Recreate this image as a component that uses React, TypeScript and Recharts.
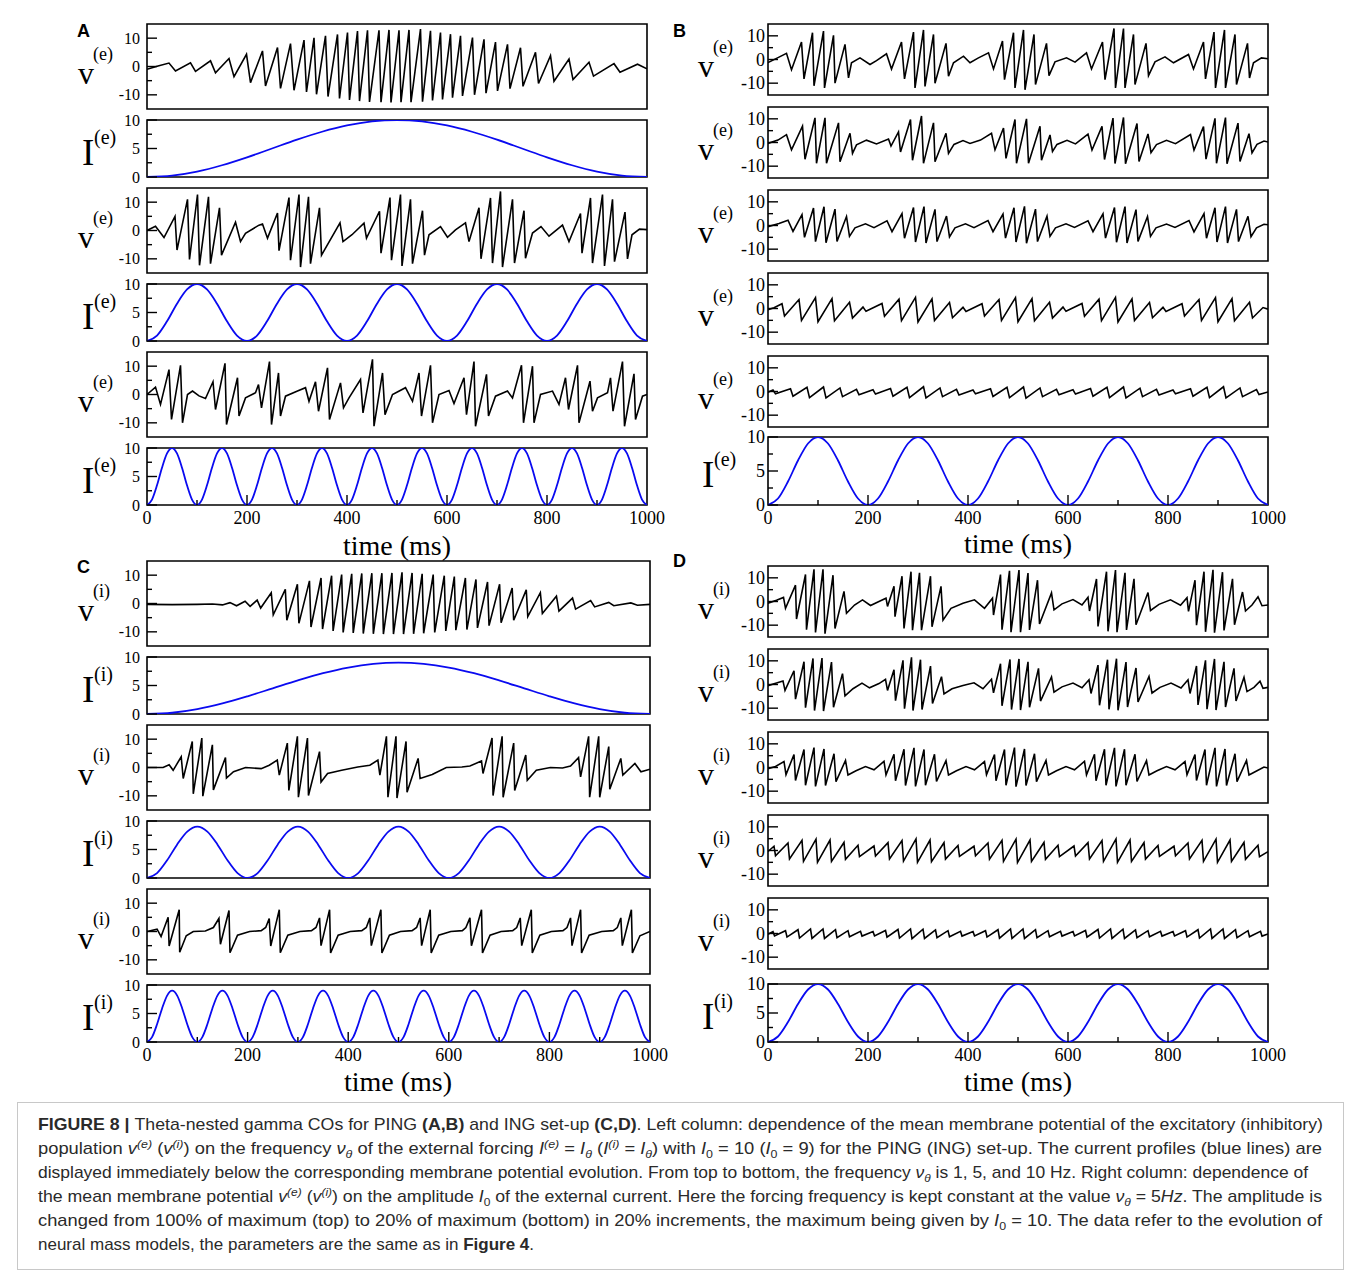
import React from 'react';
import { LineChart, Line, XAxis, YAxis, ReferenceArea } from 'recharts';

// ------------------------------------------------------------------ data
// sampling grids for the forcing currents (ms)
const T50 = [0,50,100,150,200,250,300,350,400,450,500,550,600,650,700,750,800,850,900,950,1000];
const T20 = [0,20,40,60,80,100,120,140,160,180,200,220,240,260,280,300,320,340,360,380,400,420,440,460,480,500,520,540,560,580,600,620,640,660,680,700,720,740,760,780,800,820,840,860,880,900,920,940,960,980,1000];
const T10 = [0,10,20,30,40,50,60,70,80,90,100,110,120,130,140,150,160,170,180,190,200,210,220,230,240,250,260,270,280,290,300,310,320,330,340,350,360,370,380,390,400,410,420,430,440,450,460,470,480,490,500,510,520,530,540,550,560,570,580,590,600,610,620,630,640,650,660,670,680,690,700,710,720,730,740,750,760,770,780,790,800,810,820,830,840,850,860,870,880,890,900,910,920,930,940,950,960,970,980,990,1000];

// forcing current values
const I_1HZ_10 = [0,0.24,0.95,2.06,3.45,5,6.55,7.94,9.05,9.76,10,9.76,9.05,7.94,6.55,5,3.45,2.06,0.95,0.24,0];
const I_1HZ_9 = [0,0.22,0.86,1.85,3.11,4.5,5.89,7.15,8.14,8.78,9,8.78,8.14,7.15,5.89,4.5,3.11,1.85,0.86,0.22,0];
const I_5HZ_10 = [0,0.95,3.45,6.55,9.05,10,9.05,6.55,3.45,0.95, 0,0.95,3.45,6.55,9.05,10,9.05,6.55,3.45,0.95, 0,0.95,3.45,6.55,9.05,10,9.05,6.55,3.45,0.95, 0,0.95,3.45,6.55,9.05,10,9.05,6.55,3.45,0.95, 0,0.95,3.45,6.55,9.05,10,9.05,6.55,3.45,0.95, 0];
const I_5HZ_9 = [0,0.86,3.11,5.89,8.14,9,8.14,5.89,3.11,0.86, 0,0.86,3.11,5.89,8.14,9,8.14,5.89,3.11,0.86, 0,0.86,3.11,5.89,8.14,9,8.14,5.89,3.11,0.86, 0,0.86,3.11,5.89,8.14,9,8.14,5.89,3.11,0.86, 0,0.86,3.11,5.89,8.14,9,8.14,5.89,3.11,0.86, 0];
const I_10HZ_10 = [0,0.95,3.45,6.55,9.05,10,9.05,6.55,3.45,0.95, 0,0.95,3.45,6.55,9.05,10,9.05,6.55,3.45,0.95, 0,0.95,3.45,6.55,9.05,10,9.05,6.55,3.45,0.95, 0,0.95,3.45,6.55,9.05,10,9.05,6.55,3.45,0.95, 0,0.95,3.45,6.55,9.05,10,9.05,6.55,3.45,0.95, 0,0.95,3.45,6.55,9.05,10,9.05,6.55,3.45,0.95, 0,0.95,3.45,6.55,9.05,10,9.05,6.55,3.45,0.95, 0,0.95,3.45,6.55,9.05,10,9.05,6.55,3.45,0.95, 0,0.95,3.45,6.55,9.05,10,9.05,6.55,3.45,0.95, 0,0.95,3.45,6.55,9.05,10,9.05,6.55,3.45,0.95, 0];
const I_10HZ_9 = [0,0.86,3.11,5.89,8.14,9,8.14,5.89,3.11,0.86, 0,0.86,3.11,5.89,8.14,9,8.14,5.89,3.11,0.86, 0,0.86,3.11,5.89,8.14,9,8.14,5.89,3.11,0.86, 0,0.86,3.11,5.89,8.14,9,8.14,5.89,3.11,0.86, 0,0.86,3.11,5.89,8.14,9,8.14,5.89,3.11,0.86, 0,0.86,3.11,5.89,8.14,9,8.14,5.89,3.11,0.86, 0,0.86,3.11,5.89,8.14,9,8.14,5.89,3.11,0.86, 0,0.86,3.11,5.89,8.14,9,8.14,5.89,3.11,0.86, 0,0.86,3.11,5.89,8.14,9,8.14,5.89,3.11,0.86, 0,0.86,3.11,5.89,8.14,9,8.14,5.89,3.11,0.86, 0];

// membrane potential traces: flat lists of (time ms, value)
const V_A1 = [0,-1.0, 22,0.2, 44,1.2, 57,-1.6, 87,1.3, 97,-1.7, 127,2.0, 137,-2.2, 164,2.8, 174,-3.6, 199,4.3, 207,-5.7, 231,5.5, 237,-6.9, 261,6.7, 267,-7.7, 287,8.1, 294,-8.4, 314,9.3, 319,-9.0, 334,10.1, 339,-9.8, 357,10.8, 362,-10.6, 381,11.3, 385,-11.3, 401,12.0, 405,-11.8, 421,12.5, 425,-12.2, 441,12.8, 445,-12.5, 464,12.8, 468,-12.6, 484,12.9, 488,-12.7, 504,12.8, 508,-12.6, 524,12.9, 528,-12.6, 547,13.2, 551,-12.4, 567,12.6, 571,-12.0, 587,12.0, 591,-11.6, 607,11.4, 611,-11.0, 627,10.8, 631,-10.4, 651,10.2, 655,-10.0, 674,9.6, 678,-9.4, 697,8.6, 701,-8.6, 721,7.8, 726,-7.8, 747,6.6, 752,-7.0, 777,5.0, 783,-6.0, 807,3.8, 814,-5.2, 844,2.6, 852,-4.6, 884,1.5, 893,-3.4, 934,1.0, 946,-2.0, 981,0.8, 1000,-0.8];
const V_A3 = [0,0, 17,1.5, 34,-2.5, 56,5.0, 60,-6.9, 81,11.0, 85,-10.2, 101,12.7, 105,-12.3, 123,11.9, 127,-11.7, 145,8.0, 149,-8.7, 177,2.9, 187,-3.9, 197,-1.0, 224,1.9, 231,2.3, 241,-2.7, 261,6.2, 264,-7.1, 284,11.6, 287,-10.5, 304,12.7, 307,-12.9, 323,11.9, 327,-11.7, 345,8.0, 349,-8.7, 386,2.7, 392,-3.9, 410,-1.5, 434,2.6, 439,-2.7, 465,6.8, 468,-8.0, 486,11.6, 489,-10.5, 507,12.7, 510,-12.5, 527,11.0, 531,-11.7, 551,7.0, 555,-8.7, 564,-1.5, 587,1.4, 601,-2.4, 617,0.2, 637,2.7, 644,-3.9, 664,8.0, 668,-10.0, 687,11.5, 691,-11.5, 707,13.8, 711,-12.9, 731,11.0, 735,-11.5, 754,7.0, 757,-9.8, 771,-0.9, 788,1.4, 804,-2.0, 831,1.9, 844,-3.9, 867,6.0, 870,-8.0, 887,11.5, 891,-11.5, 911,12.7, 915,-12.5, 931,11.0, 935,-11.0, 956,6.5, 961,-10.0, 970,-1.5, 985,0.5, 1000,0.3];
const V_A5 = [0,0, 17,2.6, 27,-3.5, 44,8.8, 49,-8.8, 67,10.3, 71,-10.0, 81,0, 91,1.2, 104,-0.5, 117,-1.4, 132,4.5, 137,-5.3, 156,11.0, 159,-10.6, 181,5.9, 184,-7.6, 197,-1.2, 217,0.6, 223,3.5, 229,-4.7, 245,11.6, 249,-10.6, 263,7.6, 267,-7.6, 277,-0.6, 301,1.2, 317,2.4, 324,-2.4, 337,4.5, 343,-5.9, 361,9.4, 365,-8.8, 387,4.1, 393,-4.7, 404,-1.2, 427,5.3, 432,-6.5, 451,12.4, 454,-11.2, 471,7.6, 476,-7.1, 491,0, 517,2.4, 531,-2.4, 544,7.6, 549,-7.6, 567,10.3, 571,-10.0, 584,0, 604,1.4, 614,-3.2, 634,5.9, 639,-7.1, 654,11.6, 657,-11.2, 679,7.1, 683,-7.6, 697,-0.6, 721,1.2, 731,-1.2, 749,10.3, 753,-10.0, 771,10.0, 774,-10.0, 787,0, 811,1.2, 824,-3.5, 837,5.9, 843,-5.3, 861,10.3, 864,-10.0, 886,4.7, 891,-5.9, 901,-1.2, 921,0.6, 927,5.9, 932,-5.9, 951,11.6, 955,-11.2, 974,7.3, 977,-8.8, 991,-0.6, 1000,0];
const V_B1 = [0,-1.3, 20,0.8, 37,2.6, 47,-4.3, 67,7.4, 72,-8.2, 89,11.3, 92,-11.1, 111,12.0, 113,-12.0, 131,10.2, 134,-10.0, 154,6.4, 161,-7.8, 167,-1.4, 184,0.7, 204,-2.1, 217,-0.5, 237,2.4, 247,-4.0, 267,7.4, 273,-8.2, 291,11.6, 294,-12.0, 311,12.5, 314,-11.4, 331,10.6, 334,-10.0, 356,6.8, 361,-7.1, 371,-1.4, 391,1.4, 404,-1.4, 420,0.6, 441,2.8, 451,-4.0, 469,7.8, 473,-8.5, 491,11.3, 494,-12.0, 511,12.5, 514,-12.8, 532,10.6, 535,-10.6, 557,6.8, 562,-6.8, 574,-1.0, 597,0.7, 614,-1.1, 637,2.8, 647,-4.0, 669,7.4, 674,-8.5, 692,13.1, 695,-12.0, 711,13.1, 714,-12.0, 731,10.6, 734,-10.6, 756,6.8, 761,-6.8, 774,-1.0, 794,1.1, 811,-1.4, 841,2.1, 851,-4.0, 871,7.4, 875,-8.2, 892,11.6, 895,-12.0, 913,12.5, 915,-12.0, 934,10.6, 937,-10.6, 959,6.8, 963,-7.8, 971,-1.4, 987,0.7, 1000,0.3];
const V_B2 = [0,-0.4, 20,1.0, 37,3.3, 47,-3.1, 69,6.9, 74,-7.1, 94,10.4, 97,-8.8, 114,10.4, 117,-8.8, 141,8.3, 144,-8.1, 164,3.9, 169,-4.6, 177,-1.0, 197,1.0, 217,-0.6, 241,1.5, 246,-1.5, 261,4.5, 265,-4.0, 285,9.7, 289,-7.5, 307,11.2, 311,-8.8, 331,8.3, 334,-8.1, 356,3.9, 361,-4.6, 372,-0.8, 390,0.8, 404,-0.4, 425,1.0, 447,3.9, 454,-3.1, 471,6.1, 476,-6.7, 494,9.7, 497,-8.8, 517,10.0, 521,-8.8, 544,6.9, 547,-7.5, 564,3.2, 569,-3.8, 578,-0.8, 598,0.9, 615,-0.6, 640,3.5, 648,-3.2, 668,6.8, 673,-7.2, 690,10.3, 694,-8.9, 711,10.6, 715,-9.0, 738,8.0, 742,-8.0, 760,3.6, 766,-4.3, 777,-0.9, 797,0.9, 815,-0.5, 845,3.4, 852,-3.2, 871,6.7, 876,-7.0, 894,10.2, 897,-8.8, 915,10.5, 918,-9.0, 940,8.2, 944,-8.0, 962,3.7, 968,-4.4, 978,-0.8, 992,0.6, 1000,0.2];
const V_B3 = [0,-0.5, 22,0.8, 40,2.2, 50,-2.5, 68,4.6, 73,-5.0, 91,7.4, 95,-6.8, 112,7.9, 116,-7.3, 134,6.9, 138,-6.7, 157,3.8, 163,-4.6, 174,-1.0, 195,0.7, 212,-0.9, 238,2.0, 248,-2.6, 268,5.0, 273,-5.4, 291,7.6, 295,-7.0, 312,8.0, 316,-7.4, 334,6.8, 338,-6.8, 357,4.0, 363,-4.8, 374,-1.0, 395,0.7, 412,-0.9, 440,2.1, 450,-2.6, 470,4.8, 475,-5.3, 492,7.5, 496,-7.0, 513,8.1, 517,-7.5, 535,6.9, 539,-6.8, 558,3.9, 564,-4.6, 575,-1.0, 596,0.7, 613,-0.8, 640,2.0, 650,-2.6, 670,4.9, 675,-5.3, 693,7.6, 697,-7.1, 714,8.0, 718,-7.4, 736,6.7, 740,-6.7, 759,3.8, 765,-4.6, 776,-1.0, 797,0.6, 814,-0.8, 842,2.1, 852,-2.7, 872,5.0, 877,-5.4, 894,7.5, 898,-7.0, 915,8.0, 919,-7.4, 937,6.8, 941,-6.8, 960,3.9, 966,-4.7, 977,-1.0, 992,0.5, 1000,0.3];
const V_B4 = [0,-0.5, 12,0.3, 28,2.0, 33,-3.2, 62,3.8, 67,-5.0, 95,4.6, 100,-5.6, 128,4.2, 133,-5.2, 163,2.6, 169,-4.0, 190,0.6, 196,-1.2, 228,2.1, 233,-3.3, 262,3.9, 267,-5.1, 295,4.7, 300,-5.7, 328,4.1, 333,-5.1, 363,2.5, 369,-3.9, 390,0.5, 396,-1.3, 428,2.0, 433,-3.2, 462,3.8, 467,-5.0, 495,4.6, 500,-5.6, 528,4.2, 533,-5.2, 563,2.6, 569,-4.0, 590,0.6, 596,-1.2, 628,2.1, 633,-3.3, 662,3.9, 667,-5.1, 695,4.7, 700,-5.7, 728,4.1, 733,-5.1, 763,2.5, 769,-3.9, 790,0.5, 796,-1.3, 828,2.0, 833,-3.2, 862,3.8, 867,-5.0, 895,4.6, 900,-5.6, 928,4.2, 933,-5.2, 963,2.6, 969,-4.0, 990,0.4, 1000,-0.3];
const V_B5 = [0,-0.3, 10,0.6, 15,-1.0, 45,1.2, 50,-2.0, 78,1.8, 83,-2.6, 111,1.9, 116,-2.7, 144,1.5, 149,-2.2, 177,0.9, 182,-1.4, 210,0.7, 215,-1.1, 245,1.3, 250,-2.0, 278,1.8, 283,-2.6, 311,2.0, 316,-2.7, 344,1.5, 349,-2.2, 377,0.9, 382,-1.5, 410,0.6, 415,-1.0, 445,1.2, 450,-2.1, 478,1.8, 483,-2.6, 511,1.9, 516,-2.8, 544,1.5, 549,-2.2, 577,0.9, 582,-1.4, 610,0.7, 615,-1.1, 645,1.3, 650,-2.0, 678,1.8, 683,-2.6, 711,1.9, 716,-2.7, 744,1.4, 749,-2.2, 777,0.9, 782,-1.5, 810,0.6, 815,-1.0, 845,1.2, 850,-2.0, 878,1.8, 883,-2.6, 911,2.0, 916,-2.7, 944,1.5, 949,-2.2, 977,0.8, 982,-1.3, 1000,-0.2];
const V_C1 = [0,-0.3, 50,-0.4, 100,-0.3, 130,-0.2, 150,-0.5, 165,0.3, 178,-0.8, 195,0.8, 205,-1.0, 219,1.2, 226,-1.6, 247,3.8, 251,-4.0, 275,5.0, 278,-5.9, 299,6.8, 302,-7.0, 323,8.0, 326,-8.3, 346,9.0, 349,-9.0, 367,9.8, 370,-9.7, 387,10.2, 390,-10.2, 407,10.5, 410,-10.4, 427,10.6, 430,-10.6, 447,10.7, 450,-10.7, 467,10.7, 470,-10.8, 487,10.8, 490,-10.8, 507,11.0, 510,-10.8, 527,10.8, 530,-10.7, 547,10.5, 550,-10.5, 569,10.2, 572,-10.2, 591,9.8, 594,-9.7, 611,9.5, 614,-9.4, 633,9.0, 636,-9.2, 654,8.5, 657,-8.6, 677,7.6, 680,-7.8, 701,6.8, 704,-6.8, 726,5.5, 729,-5.9, 754,4.8, 757,-4.6, 782,3.8, 786,-3.5, 814,2.6, 819,-2.7, 846,1.9, 852,-2.0, 882,1.0, 890,-1.2, 918,0.4, 928,-0.8, 962,0.2, 975,-0.6, 1000,-0.3];
const V_C3 = [0,0, 32,0, 44,1.0, 52,-1.0, 68,3.8, 72,-3.9, 90,9.2, 92,-9.3, 109,10.4, 111,-10.1, 130,8.0, 132,-7.9, 156,3.5, 158,-3.7, 172,-1.5, 196,0, 227,-0.4, 243,0.8, 259,2.6, 263,-2.7, 279,8.6, 282,-8.1, 299,11.0, 301,-10.5, 319,10.4, 321,-9.9, 343,5.6, 346,-5.1, 359,-2.1, 387,-1.0, 419,0.2, 443,0.8, 459,2.6, 463,-2.7, 476,11.0, 479,-10.5, 495,11.0, 497,-10.8, 515,9.2, 517,-8.7, 539,3.2, 543,-3.9, 567,-2.5, 595,0, 626,0.2, 642,0.5, 665,2.3, 668,-2.1, 686,10.4, 688,-9.9, 706,11.0, 708,-10.5, 729,8.6, 731,-8.1, 753,4.4, 756,-4.5, 774,-1.0, 802,0, 826,-0.2, 842,0.5, 858,3.5, 862,-3.3, 878,11.0, 880,-10.5, 898,11.0, 900,-10.5, 918,7.4, 920,-7.7, 942,3.2, 946,-2.7, 970,1.4, 982,-1.5, 1000,-0.6];
const V_C5 = [0,0, 20,0.8, 28,-1.8, 42,5.0, 44,-5.1, 64,7.7, 65,-7.3, 78,-1.5, 92,0, 116,0.2, 132,1.4, 143,4.6, 146,-4.5, 163,7.4, 165,-7.5, 180,-1.3, 204,0, 227,0.3, 236,1.4, 243,4.6, 246,-5.1, 263,7.7, 265,-7.5, 280,-1.3, 304,0, 327,0.3, 336,1.4, 343,4.8, 346,-5.0, 363,7.7, 365,-7.6, 380,-1.3, 404,0, 427,0.3, 436,1.4, 443,4.8, 446,-5.0, 465,7.7, 467,-7.6, 482,-1.3, 504,0, 527,0.3, 536,1.4, 543,4.8, 546,-5.0, 563,7.7, 565,-7.6, 580,-1.3, 604,0, 627,0.3, 634,1.4, 642,4.8, 645,-5.0, 665,7.7, 667,-7.6, 682,-1.3, 704,0, 727,0.3, 735,1.4, 742,4.8, 745,-5.0, 764,7.7, 766,-7.6, 781,-1.3, 804,0, 827,0.3, 835,1.4, 842,4.8, 845,-5.0, 862,7.7, 864,-7.6, 879,-1.3, 904,0, 927,0.3, 935,1.4, 942,4.8, 945,-5.0, 963,7.7, 965,-7.6, 980,-1.5, 1000,0];
const V_D1 = [0,-0.7, 17,0.5, 31,1.7, 35,-2.9, 55,6.9, 57,-7.4, 75,11.4, 77,-11.9, 92,13.6, 95,-13.1, 110,13.6, 114,-13.6, 130,11.1, 134,-11.4, 152,4.3, 157,-5.0, 173,-1.5, 189,0.7, 205,-1.7, 224,0.2, 236,1.4, 239,-2.1, 252,6.4, 254,-6.4, 268,10.7, 272,-11.4, 286,12.6, 289,-12.1, 303,12.1, 307,-12.1, 325,10.7, 328,-10.7, 346,6.4, 350,-7.9, 366,-2.9, 390,-0.7, 413,0.7, 433,-2.9, 449,1.4, 451,-5.7, 465,11.4, 468,-11.9, 483,13.0, 486,-13.0, 502,13.3, 505,-13.0, 520,12.0, 523,-12.0, 539,9.0, 543,-9.5, 567,3.6, 572,-3.5, 588,-1.0, 610,0.8, 628,-1.5, 640,1.8, 643,-4.0, 657,9.5, 660,-10.5, 677,12.6, 680,-12.6, 695,13.3, 698,-13.0, 714,12.1, 717,-12.0, 732,9.6, 736,-9.8, 760,3.8, 765,-3.8, 782,-1.2, 805,0.7, 825,-1.6, 838,1.6, 841,-4.2, 854,9.0, 857,-10.0, 872,12.6, 875,-12.8, 890,13.4, 893,-13.2, 909,12.4, 912,-12.2, 929,9.6, 933,-9.8, 949,4.0, 955,-4.0, 968,-1.5, 980,2.0, 988,-1.8, 1000,-1.5];
const V_D2 = [0,-0.5, 17,0.6, 30,1.5, 34,-2.5, 52,5.8, 55,-6.2, 72,9.6, 75,-9.8, 90,11.0, 93,-11.0, 108,11.2, 111,-11.2, 127,9.5, 131,-9.6, 149,4.6, 154,-4.8, 170,-1.8, 188,0.6, 203,-1.4, 222,0.4, 235,2.2, 239,-2.5, 252,6.2, 255,-6.8, 270,10.2, 273,-10.2, 287,11.5, 290,-11.0, 305,10.5, 308,-10.6, 325,7.8, 329,-8.0, 347,3.3, 352,-4.0, 368,-1.8, 390,-0.4, 412,0.7, 430,-1.8, 447,2.2, 451,-3.5, 465,8.8, 468,-9.0, 484,10.6, 487,-10.6, 502,10.8, 505,-10.8, 520,9.6, 523,-9.6, 541,6.8, 545,-7.0, 567,3.2, 572,-3.2, 588,-1.0, 610,0.6, 628,-1.4, 642,2.0, 646,-3.8, 660,8.2, 663,-8.8, 679,10.5, 682,-10.5, 697,10.9, 700,-10.9, 716,9.5, 719,-9.5, 736,7.0, 740,-7.4, 762,3.4, 768,-3.6, 784,-1.2, 806,0.6, 826,-1.5, 840,2.0, 844,-3.8, 857,7.8, 860,-8.6, 875,10.2, 878,-10.4, 893,10.8, 896,-10.8, 912,9.6, 915,-9.5, 932,6.8, 936,-7.0, 952,3.0, 958,-3.0, 972,-1.2, 984,1.4, 990,-1.6, 1000,-1.2];
const V_D3 = [0,-0.5, 15,0.4, 32,2.5, 36,-3.0, 52,5.5, 55,-5.5, 72,7.6, 75,-7.5, 92,8.4, 95,-8.0, 112,7.8, 115,-7.6, 132,5.8, 136,-6.0, 155,3.0, 160,-3.2, 176,-1.4, 195,0.4, 212,-1.0, 232,2.6, 236,-3.1, 252,5.6, 255,-5.6, 272,7.7, 275,-7.6, 292,8.3, 295,-8.0, 312,7.6, 315,-7.5, 333,5.6, 337,-5.9, 356,2.9, 361,-3.2, 377,-1.4, 396,0.4, 413,-1.0, 433,2.5, 437,-3.0, 453,5.5, 456,-5.6, 473,7.6, 476,-7.5, 493,8.4, 496,-8.1, 513,7.8, 516,-7.6, 533,5.8, 537,-6.0, 556,3.0, 561,-3.2, 577,-1.4, 596,0.4, 613,-1.0, 633,2.6, 637,-3.1, 653,5.6, 656,-5.6, 673,7.7, 676,-7.5, 693,8.3, 696,-8.0, 713,7.7, 716,-7.5, 734,5.6, 738,-5.9, 757,2.9, 762,-3.2, 778,-1.4, 797,0.4, 814,-1.0, 834,2.5, 838,-3.0, 854,5.5, 857,-5.5, 874,7.6, 877,-7.5, 894,8.3, 897,-8.0, 914,7.8, 917,-7.6, 934,5.8, 938,-6.0, 957,3.0, 962,-3.2, 978,-1.4, 992,0.2, 1000,-0.2];
const V_D4 = [0,-0.4, 12,1.8, 15,-2.2, 40,3.2, 43,-3.6, 68,4.3, 71,-4.6, 96,4.8, 99,-5.0, 124,4.4, 127,-4.6, 152,3.4, 155,-3.7, 180,2.2, 183,-2.6, 212,1.9, 215,-2.3, 240,3.3, 243,-3.6, 268,4.2, 271,-4.5, 296,4.9, 299,-5.0, 324,4.4, 327,-4.7, 352,3.3, 355,-3.6, 380,2.1, 383,-2.5, 412,1.8, 415,-2.2, 440,3.2, 443,-3.7, 468,4.3, 471,-4.6, 496,4.8, 499,-5.1, 524,4.4, 527,-4.6, 552,3.4, 555,-3.7, 580,2.2, 583,-2.6, 612,1.9, 615,-2.3, 640,3.3, 643,-3.6, 668,4.2, 671,-4.6, 696,4.9, 699,-5.0, 724,4.4, 727,-4.6, 752,3.3, 755,-3.6, 780,2.1, 783,-2.5, 812,1.8, 815,-2.2, 840,3.2, 843,-3.6, 868,4.3, 871,-4.6, 896,4.8, 899,-5.0, 924,4.4, 927,-4.6, 952,3.4, 955,-3.7, 980,2.2, 983,-2.6, 1000,-0.5];
const V_D5 = [0,-0.3, 10,0.8, 13,-1.0, 35,1.2, 38,-1.5, 60,1.6, 63,-1.9, 85,1.9, 88,-2.1, 110,1.9, 113,-2.1, 135,1.6, 138,-1.8, 160,1.2, 163,-1.4, 185,0.9, 188,-1.1, 210,0.8, 213,-1.0, 235,1.3, 238,-1.5, 260,1.7, 263,-1.9, 285,1.9, 288,-2.2, 310,1.8, 313,-2.1, 335,1.5, 338,-1.8, 360,1.2, 363,-1.4, 385,0.9, 388,-1.1, 410,0.8, 413,-1.0, 435,1.2, 438,-1.5, 460,1.6, 463,-2.0, 485,1.9, 488,-2.1, 510,1.9, 513,-2.1, 535,1.6, 538,-1.8, 560,1.2, 563,-1.4, 585,0.9, 588,-1.1, 610,0.8, 613,-1.0, 635,1.3, 638,-1.5, 660,1.7, 663,-1.9, 685,1.9, 688,-2.1, 710,1.8, 713,-2.1, 735,1.5, 738,-1.8, 760,1.2, 763,-1.4, 785,0.9, 788,-1.1, 810,0.8, 813,-1.0, 835,1.2, 838,-1.5, 860,1.6, 863,-1.9, 885,1.9, 888,-2.1, 910,1.9, 913,-2.1, 935,1.6, 938,-1.8, 960,1.2, 963,-1.4, 985,0.9, 988,-1.1, 1000,-0.2];

// axis ticks
const X_TICKS = [0,100,200,300,400,500,600,700,800,900,1000];
const V_TICKS = [-10,-5,0,5,10];
const I_TICKS = [0,2.5,5,7.5,10];

// caption text
type Seg = { s: string; f?: string };
const CAPTION: Seg[][] = [
  [{ s: 'FIGURE 8 | ', f: 'B' }, { s: 'Theta-nested gamma COs for PING ' }, { s: '(A,B)', f: 'B' }, { s: ' and ING set-up ' }, { s: '(C,D)', f: 'B' }, { s: '. Left column: dependence of the mean membrane potential of the excitatory (inhibitory)' }],
  [{ s: 'population ' }, { s: 'v', f: 'i' }, { s: '(e)', f: 'si' }, { s: ' (' }, { s: 'v', f: 'i' }, { s: '(i)', f: 'si' }, { s: ') on the frequency ' }, { s: 'ν', f: 'i' }, { s: 'θ', f: 'ui' }, { s: ' of the external forcing ' }, { s: 'I', f: 'i' }, { s: '(e)', f: 'si' }, { s: ' = ' }, { s: 'I', f: 'i' }, { s: 'θ', f: 'ui' }, { s: ' (' }, { s: 'I', f: 'i' }, { s: '(i)', f: 'si' }, { s: ' = ' }, { s: 'I', f: 'i' }, { s: 'θ', f: 'ui' }, { s: ') with ' }, { s: 'I', f: 'i' }, { s: '0', f: 'u' }, { s: ' = 10 (' }, { s: 'I', f: 'i' }, { s: '0', f: 'u' }, { s: ' = 9) for the PING (ING) set-up. The current profiles (blue lines) are' }],
  [{ s: 'displayed immediately below the corresponding membrane potential evolution. From top to bottom, the frequency ' }, { s: 'ν', f: 'i' }, { s: 'θ', f: 'ui' }, { s: ' is 1, 5, and 10 Hz. Right column: dependence of' }],
  [{ s: 'the mean membrane potential ' }, { s: 'v', f: 'i' }, { s: '(e)', f: 'si' }, { s: ' (' }, { s: 'v', f: 'i' }, { s: '(i)', f: 'si' }, { s: ') on the amplitude ' }, { s: 'I', f: 'i' }, { s: '0', f: 'u' }, { s: ' of the external current. Here the forcing frequency is kept constant at the value ' }, { s: 'ν', f: 'i' }, { s: 'θ', f: 'ui' }, { s: ' = 5' }, { s: 'Hz', f: 'i' }, { s: '. The amplitude is' }],
  [{ s: 'changed from 100% of maximum (top) to 20% of maximum (bottom) in 20% increments, the maximum being given by ' }, { s: 'I', f: 'i' }, { s: '0', f: 'u' }, { s: ' = 10. The data refer to the evolution of' }],
  [{ s: 'neural mass models, the parameters are the same as in ' }, { s: 'Figure 4', f: 'B' }, { s: '.' }],
];
const CAPTION_WIDTHS = [1285, 1284, 1270, 1284, 1284, 0];

// ------------------------------------------------------------------ helpers
type Row = { t: number; v: number };
const pairs = (flat: number[]): Row[] => {
  const out: Row[] = [];
  for (let i = 0; i + 1 < flat.length; i += 2) out.push({ t: flat[i], v: flat[i + 1] });
  return out;
};
const zip = (ts: number[], vs: number[]): Row[] => ts.map((t, i) => ({ t, v: vs[i] }));

const SERIF = "'Liberation Serif','DejaVu Serif','Times New Roman',serif";
const SANS = "'Liberation Sans',Arial,Helvetica,sans-serif";

type Kind = 'v' | 'i';
interface StripCfg {
  x: number; y: number; w: number; h: number; kind: Kind; rows: Row[];
  bottom?: boolean; tickFont: number; gap: number; sup: string; labX: number;
}

function Strip({ cfg }: { cfg: StripCfg }) {
  const { x, y, w, h, kind, rows, bottom, tickFont, gap } = cfg;
  const YW = 60, PT = 12, PR = 30, PB = bottom ? 0 : 12, XH = bottom ? 34 : 0;
  const dom: [number, number] = kind === 'v' ? [-15, 15] : [0, 10];
  const yTicks = kind === 'v' ? V_TICKS : I_TICKS;
  const xTick = (p: any) => {
    const val = p.payload.value as number;
    const major = val % 200 === 0;
    const len = major ? 10 : 5;
    return (
      <g>
        {val > 0 && val < 1000 ? <line x1={p.x} x2={p.x} y1={p.y} y2={p.y - len} stroke="#000" strokeWidth={1.4} /> : null}
        {bottom && major ? (
          <text x={p.x} y={p.y + 19} textAnchor="middle" fontFamily={SERIF} fontSize={18} fill="#000">{val}</text>
        ) : null}
      </g>
    );
  };
  const yTick = (p: any) => {
    const val = p.payload.value as number;
    const major = kind === 'v' ? val % 10 === 0 : val % 5 === 0;
    const len = major ? 10 : 5;
    return (
      <g>
        <line x1={p.x} x2={p.x + len} y1={p.y} y2={p.y} stroke="#000" strokeWidth={1.4} />
        {major ? (
          <text x={p.x - gap} y={p.y + tickFont * 0.35} textAnchor="end" fontFamily={SERIF} fontSize={tickFont} fill="#000">{val}</text>
        ) : null}
      </g>
    );
  };
  return (
    <div style={{ position: 'absolute', left: x - YW, top: y - PT }}>
      <LineChart width={YW + w + PR} height={PT + h + XH + PB} data={rows} margin={{ top: PT, right: PR, bottom: PB, left: 0 }}>
        <XAxis dataKey="t" type="number" domain={[0, 1000]} allowDataOverflow ticks={X_TICKS} interval={0}
          tickSize={0} tickMargin={0} axisLine={false} tickLine={false} height={XH} tick={xTick} />
        <YAxis type="number" domain={dom} allowDataOverflow ticks={yTicks} interval={0}
          tickSize={0} tickMargin={0} axisLine={false} tickLine={false} width={YW} tick={yTick} />
        <Line dataKey="v" type={kind === 'v' ? 'linear' : 'monotone'} stroke={kind === 'v' ? '#000' : '#0a0af0'}
          strokeWidth={kind === 'v' ? 1.6 : 1.8} dot={false} activeDot={false} isAnimationActive={false} />
        <ReferenceArea x1={0} x2={1000} y1={dom[0]} y2={dom[1]} fill="none" fillOpacity={0} stroke="#000" strokeWidth={1.6} ifOverflow="visible" />
      </LineChart>
    </div>
  );
}

function YLabel({ cfg }: { cfg: StripCfg }) {
  const cy = cfg.y + cfg.h / 2;
  if (cfg.kind === 'v') {
    return (
      <g fontFamily={SERIF} fill="#000">
        <text x={cfg.labX} y={cy + 17} fontSize={32}>v</text>
        <text x={cfg.labX + 15} y={cy - 7} fontSize={18}>{cfg.sup}</text>
      </g>
    );
  }
  return (
    <g fontFamily={SERIF} fill="#000">
      <text x={cfg.labX + 4} y={cy + 16} fontSize={37}>I</text>
      <text x={cfg.labX + 16} y={cy - 5} fontSize={20}>{cfg.sup}</text>
    </g>
  );
}

function CaptionLine({ segs, y, width }: { segs: Seg[]; y: number; width: number }) {
  let shift = 0;
  const kids = segs.map((sg, k) => {
    const f = sg.f || '';
    const target = f.includes('s') ? -6 : f.includes('u') ? 4 : 0;
    const dy = target - shift;
    shift = target;
    return (
      <tspan key={k} dy={dy !== 0 ? dy : undefined}
        fontStyle={f.includes('i') ? 'italic' : undefined}
        fontWeight={f.includes('B') ? 700 : undefined}
        fontSize={target !== 0 ? 11.5 : undefined}>{sg.s}</tspan>
    );
  });
  const fit = width > 0 ? { textLength: width, lengthAdjust: 'spacingAndGlyphs' as const } : {};
  return (
    <text x={38} y={y} fontFamily={SANS} fontSize={17} fill="#2a2a2a" {...fit}>{kids}</text>
  );
}

// ------------------------------------------------------------------ layout
const L = { x: 147, w: 500, font: 16, gap: 7, lab: 78 };
const LC = { x: 147, w: 503, font: 16, gap: 7, lab: 78 };
const R = { x: 768, w: 500, font: 18, gap: 3, lab: 698 };

const STRIPS: StripCfg[] = [
  // A
  { x: L.x, y: 24, w: L.w, h: 85, kind: 'v', rows: pairs(V_A1), tickFont: L.font, gap: L.gap, sup: '(e)', labX: L.lab },
  { x: L.x, y: 120, w: L.w, h: 57, kind: 'i', rows: zip(T50, I_1HZ_10), tickFont: L.font, gap: L.gap, sup: '(e)', labX: L.lab },
  { x: L.x, y: 188, w: L.w, h: 85, kind: 'v', rows: pairs(V_A3), tickFont: L.font, gap: L.gap, sup: '(e)', labX: L.lab },
  { x: L.x, y: 284, w: L.w, h: 57, kind: 'i', rows: zip(T20, I_5HZ_10), tickFont: L.font, gap: L.gap, sup: '(e)', labX: L.lab },
  { x: L.x, y: 352, w: L.w, h: 85, kind: 'v', rows: pairs(V_A5), tickFont: L.font, gap: L.gap, sup: '(e)', labX: L.lab },
  { x: L.x, y: 448, w: L.w, h: 57, kind: 'i', rows: zip(T10, I_10HZ_10), tickFont: L.font, gap: L.gap, sup: '(e)', labX: L.lab, bottom: true },
  // B
  { x: R.x, y: 24, w: R.w, h: 71, kind: 'v', rows: pairs(V_B1), tickFont: R.font, gap: R.gap, sup: '(e)', labX: R.lab },
  { x: R.x, y: 107, w: R.w, h: 71, kind: 'v', rows: pairs(V_B2), tickFont: R.font, gap: R.gap, sup: '(e)', labX: R.lab },
  { x: R.x, y: 190, w: R.w, h: 71, kind: 'v', rows: pairs(V_B3), tickFont: R.font, gap: R.gap, sup: '(e)', labX: R.lab },
  { x: R.x, y: 273, w: R.w, h: 71, kind: 'v', rows: pairs(V_B4), tickFont: R.font, gap: R.gap, sup: '(e)', labX: R.lab },
  { x: R.x, y: 356, w: R.w, h: 71, kind: 'v', rows: pairs(V_B5), tickFont: R.font, gap: R.gap, sup: '(e)', labX: R.lab },
  { x: R.x, y: 437, w: R.w, h: 68, kind: 'i', rows: zip(T20, I_5HZ_10), tickFont: R.font, gap: R.gap, sup: '(e)', labX: R.lab, bottom: true },
  // C
  { x: LC.x, y: 561, w: LC.w, h: 85, kind: 'v', rows: pairs(V_C1), tickFont: LC.font, gap: LC.gap, sup: '(i)', labX: LC.lab },
  { x: LC.x, y: 657, w: LC.w, h: 57, kind: 'i', rows: zip(T50, I_1HZ_9), tickFont: LC.font, gap: LC.gap, sup: '(i)', labX: LC.lab },
  { x: LC.x, y: 725, w: LC.w, h: 85, kind: 'v', rows: pairs(V_C3), tickFont: LC.font, gap: LC.gap, sup: '(i)', labX: LC.lab },
  { x: LC.x, y: 821, w: LC.w, h: 57, kind: 'i', rows: zip(T20, I_5HZ_9), tickFont: LC.font, gap: LC.gap, sup: '(i)', labX: LC.lab },
  { x: LC.x, y: 889, w: LC.w, h: 85, kind: 'v', rows: pairs(V_C5), tickFont: LC.font, gap: LC.gap, sup: '(i)', labX: LC.lab },
  { x: LC.x, y: 985, w: LC.w, h: 57, kind: 'i', rows: zip(T10, I_10HZ_9), tickFont: LC.font, gap: LC.gap, sup: '(i)', labX: LC.lab, bottom: true },
  // D
  { x: R.x, y: 566, w: R.w, h: 71, kind: 'v', rows: pairs(V_D1), tickFont: R.font, gap: R.gap, sup: '(i)', labX: R.lab },
  { x: R.x, y: 649, w: R.w, h: 71, kind: 'v', rows: pairs(V_D2), tickFont: R.font, gap: R.gap, sup: '(i)', labX: R.lab },
  { x: R.x, y: 732, w: R.w, h: 71, kind: 'v', rows: pairs(V_D3), tickFont: R.font, gap: R.gap, sup: '(i)', labX: R.lab },
  { x: R.x, y: 815, w: R.w, h: 71, kind: 'v', rows: pairs(V_D4), tickFont: R.font, gap: R.gap, sup: '(i)', labX: R.lab },
  { x: R.x, y: 898, w: R.w, h: 71, kind: 'v', rows: pairs(V_D5), tickFont: R.font, gap: R.gap, sup: '(i)', labX: R.lab },
  { x: R.x, y: 984, w: R.w, h: 58, kind: 'i', rows: zip(T20, I_5HZ_10), tickFont: R.font, gap: R.gap, sup: '(i)', labX: R.lab, bottom: true },
];

const PANEL_LETTERS = [
  { s: 'A', x: 77, y: 37 }, { s: 'B', x: 673, y: 37 }, { s: 'C', x: 77, y: 573 }, { s: 'D', x: 673, y: 567 },
];
const TIME_LABELS = [
  { x: 397, y: 555 }, { x: 1018, y: 553 }, { x: 398, y: 1091 }, { x: 1018, y: 1091 },
];
const CAPTION_BASE = 1130;
const CAPTION_STEP = 24;

export default function App() {
  return (
    <div style={{ position: 'absolute', left: 0, top: 0, width: 1360, height: 1288, background: '#fff', overflow: 'hidden' }}>
      <svg width={1360} height={1288} style={{ position: 'absolute', left: 0, top: 0 }}>
        {PANEL_LETTERS.map((p) => (
          <text key={p.s} x={p.x} y={p.y} fontFamily={SANS} fontWeight={700} fontSize={18} fill="#000">{p.s}</text>
        ))}
        {STRIPS.map((c, i) => <YLabel key={i} cfg={c} />)}
        {TIME_LABELS.map((t, i) => (
          <text key={i} x={t.x} y={t.y} textAnchor="middle" fontFamily={SERIF} fontSize={28} fill="#000">time (ms)</text>
        ))}
        <rect x={17.5} y={1102.5} width={1326} height={167} fill="none" stroke="#c8c8c8" strokeWidth={1} />
        {CAPTION.map((segs, i) => (
          <CaptionLine key={i} segs={segs} y={CAPTION_BASE + i * CAPTION_STEP} width={CAPTION_WIDTHS[i]} />
        ))}
      </svg>
      {STRIPS.map((c, i) => <Strip key={i} cfg={c} />)}
    </div>
  );
}
